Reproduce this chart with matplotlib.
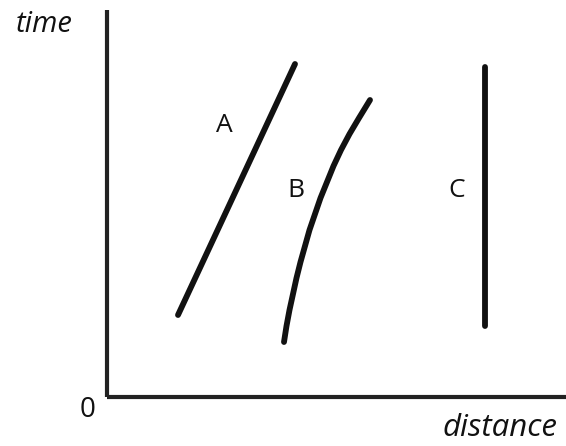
import numpy as np
import matplotlib
matplotlib.use('Agg')
import matplotlib.pyplot as plt

plt.rcParams['font.family'] = ['Open Sans', 'DejaVu Sans']

# lines in distance/time units (origin at the axes corner)
a_x = [71, 188]
a_y = [82, 333]
b_x = [177, 179.5, 182.5, 186, 189.5, 193.5, 198, 202.5, 208, 213.5, 220, 226.5, 234, 242.5, 252, 263]
b_y = [55, 71, 87, 103, 119, 135, 151, 167, 183, 199, 215, 231, 247, 263, 279, 297]
c_x = [378, 378]
c_y = [71, 330]

labels = ['A', 'B', 'C']
label_x = [117, 189, 350]
label_y = [272, 207, 207]

W, H = 566, 446
fig = plt.figure(figsize=(W / 100, H / 100), dpi=100)
x0, y0 = 107, 397
ax = fig.add_axes([x0 / W, (H - y0) / H, (W - x0) / W, (y0 - 10) / H])
ax.set_xlim(0, W - x0)
ax.set_ylim(0, y0 - 10)

for s in ['top', 'right']:
    ax.spines[s].set_visible(False)
for s in ['left', 'bottom']:
    ax.spines[s].set_linewidth(3)
    ax.spines[s].set_color('#222222')
    ax.spines[s].set_capstyle('butt')
ax.set_xticks([])
ax.set_yticks([])

kw = dict(color='#111111', lw=4.2, solid_capstyle='round', solid_joinstyle='round')
ax.plot(a_x, a_y, **kw)
ax.plot(b_x, b_y, **kw)
ax.plot(c_x, c_y, **kw)

for t, x, y in zip(labels, label_x, label_y):
    ax.text(x, y, t, fontsize=19, ha='center', va='center', color='#111111')

fig.text(44 / W, 1 - 25 / H, 'time', fontsize=21, style='italic',
         ha='center', va='center', color='#111111')
fig.text(88 / W, 1 - 410 / H, '0', fontsize=20, ha='center', va='center',
         color='#111111')
fig.text(500 / W, 1 - 428 / H, 'distance', fontsize=22.5, style='italic',
         ha='center', va='center', color='#111111')

fig.savefig('out.png', dpi=100)
